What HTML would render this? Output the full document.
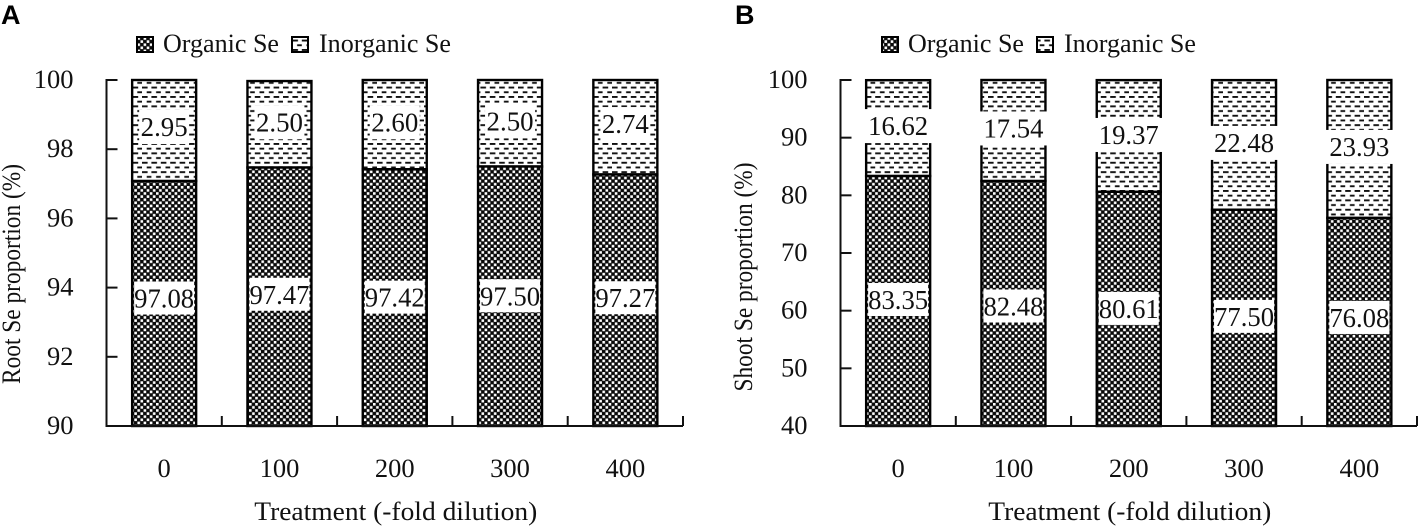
<!DOCTYPE html>
<html lang="en">
<head>
<meta charset="utf-8">
<title>Root and shoot Se proportion</title>
<style>
html,body{margin:0;padding:0;background:#fff;width:1418px;height:526px;overflow:hidden}
svg{display:block}
text{font-family:"Liberation Serif",serif;fill:#111}
.letter{font-family:"Liberation Sans",sans-serif;font-weight:700;fill:#000}
</style>
</head>
<body>
<svg id="figure" xmlns="http://www.w3.org/2000/svg" width="1418" height="526" viewBox="0 0 1418 526">
<defs>
<pattern id="organic" patternUnits="userSpaceOnUse" width="6.2" height="6.2" x="1" y="0">
<rect width="6.2" height="6.2" fill="#0a0a0a"/>
<rect x="0" y="0" width="2.6" height="2.6" fill="#fff"/>
<rect x="3.1" y="3.1" width="2.6" height="2.6" fill="#fff"/>
</pattern>
<pattern id="inorganic" patternUnits="userSpaceOnUse" width="9.4" height="9.4" x="1" y="2">
<rect width="9.4" height="9.4" fill="#fff"/>
<rect x="0" y="0" width="5.6" height="1.9" fill="#111"/>
<rect x="4.7" y="4.7" width="5.6" height="1.9" fill="#111"/>
</pattern>
</defs>
<g id="panel-a"></g>
<g id="panel-b"></g>
</svg>
<script>
const categories = ['0', '100', '200', '300', '400'];
const rootOrganic = [97.08, 97.47, 97.42, 97.50, 97.27];
const rootInorganic = [2.95, 2.50, 2.60, 2.50, 2.74];
const shootOrganic = [83.35, 82.48, 80.61, 77.50, 76.08];
const shootInorganic = [16.62, 17.54, 19.37, 22.48, 23.93];
const rootTicks = [90, 92, 94, 96, 98, 100];
const shootTicks = [40, 50, 60, 70, 80, 90, 100];
const rootOrganicLabels = ['97.08', '97.47', '97.42', '97.50', '97.27'];
const rootInorganicLabels = ['2.95', '2.50', '2.60', '2.50', '2.74'];
const shootOrganicLabels = ['83.35', '82.48', '80.61', '77.50', '76.08'];
const shootInorganicLabels = ['16.62', '17.54', '19.37', '22.48', '23.93'];

const NS = 'http://www.w3.org/2000/svg';
function make(parent, tag, attrs, content) {
  const el = document.createElementNS(NS, tag);
  for (const k in attrs) el.setAttribute(k, attrs[k]);
  if (content !== undefined) el.textContent = content;
  parent.appendChild(el);
  return el;
}

function drawPanel(cfg) {
  const root = document.getElementById(cfg.id);
  const top = 80, bottom = 426, bandW = 115.3, barW = 64;
  const yMin = cfg.ticks[0], yMax = cfg.ticks[cfg.ticks.length - 1];
  const y = v => bottom - (Math.min(v, yMax) - yMin) / (yMax - yMin) * (bottom - top);
  const x = i => cfg.left + bandW * i + bandW / 2;

  const letter = make(root, 'text', {x: cfg.letterX, y: 24, 'font-size': 27, class: 'letter'}, cfg.letter);
  
  

  categories.forEach((c, i) => {
    const orgTop = y(cfg.organic[i]);
    const incTop = y(cfg.organic[i] + cfg.inorganic[i]);
    const inc = make(root, 'rect', {x: x(i) - barW / 2, y: incTop, width: barW, height: orgTop - incTop, fill: 'url(#inorganic)', stroke: '#000', 'stroke-width': 2.4});
    
    
    const org = make(root, 'rect', {x: x(i) - barW / 2, y: orgTop, width: barW, height: bottom - orgTop, fill: 'url(#organic)', stroke: '#000', 'stroke-width': 2.4});
    
    
  });

  // axes
  const yAxis = make(root, 'line', {x1: cfg.left, x2: cfg.left, y1: top - 1, y2: bottom + 1, stroke: '#111', 'stroke-width': 2});
  
  
  const xAxis = make(root, 'line', {x1: cfg.left - 1, x2: cfg.left + bandW * 5, y1: bottom, y2: bottom, stroke: '#111', 'stroke-width': 2});
  
  

  cfg.ticks.forEach(t => {
    const tick = make(root, 'line', {x1: cfg.left, x2: cfg.left + 11, y1: y(t), y2: y(t), stroke: '#111', 'stroke-width': 2});
    
    
    const lab = make(root, 'text', {x: cfg.left - 33, y: y(t) + 8, 'text-anchor': 'end', 'font-size': 26.5}, String(t));
    
    
  });
  for (let i = 1; i <= 5; i++) {
    const tick = make(root, 'line', {x1: cfg.left + bandW * i, x2: cfg.left + bandW * i, y1: bottom, y2: bottom - 10, stroke: '#111', 'stroke-width': 2});
    
    
  }

  categories.forEach((c, i) => {
    const lab = make(root, 'text', {x: x(i), y: 477, 'text-anchor': 'middle', 'font-size': 26.5}, c);
    
    

    const orgMid = y(cfg.organic[i] / 2 + yMin / 2);
    const incMid = y(cfg.organic[i] + cfg.inorganic[i] / 2);
    const boxO = make(root, 'rect', {x: x(i) - cfg.boxW5 / 2, y: orgMid + cfg.nudgeOrganic[i] - 17, width: cfg.boxW5, height: 33, fill: '#fff'});
    
    
    const tO = make(root, 'text', {x: x(i), y: orgMid + cfg.nudgeOrganic[i] + 9, 'text-anchor': 'middle', 'font-size': 27.5, textLength: 60, lengthAdjust: 'spacingAndGlyphs'}, cfg.organicLabels[i]);
    
    
    const incW = cfg.incLabelW;
    const boxI = make(root, 'rect', {x: x(i) - incW / 2, y: incMid + cfg.nudgeInorganic[i] - 17, width: incW, height: 34, fill: '#fff'});
    
    
    const tI = make(root, 'text', {x: x(i), y: incMid + cfg.nudgeInorganic[i] + 9, 'text-anchor': 'middle', 'font-size': 27.5, textLength: cfg.incTextW, lengthAdjust: 'spacingAndGlyphs'}, cfg.inorganicLabels[i]);
    
    
  });

  // titles
  const yt = make(root, 'text', {transform: 'translate(' + cfg.yTitleX + ',' + cfg.yTitleY + ') rotate(-90)', 'text-anchor': 'middle', 'font-size': 26, textLength: cfg.yTitleLen, lengthAdjust: 'spacingAndGlyphs'}, cfg.yTitle);
  
  
  const xt = make(root, 'text', {x: cfg.left + bandW * 2.5 + 1, y: 520, 'text-anchor': 'middle', 'font-size': 26, textLength: 283, lengthAdjust: 'spacingAndGlyphs'}, 'Treatment (-fold dilution)');
  
  

  // legend
  const legend = make(root, 'g', {});
  
  
  const sw1 = make(legend, 'rect', {x: cfg.legendX, y: 37, width: 16, height: 15, fill: 'url(#organic)', stroke: '#000', 'stroke-width': 2});
  
  
  const lt1 = make(legend, 'text', {x: cfg.legendX + 26, y: 52, 'font-size': 26, textLength: 116, lengthAdjust: 'spacingAndGlyphs'}, 'Organic Se');
  
  
  const sw2 = make(legend, 'rect', {x: cfg.legendX + 155, y: 37, width: 16, height: 15, fill: 'url(#inorganic)', stroke: '#000', 'stroke-width': 2});
  
  
  const lt2 = make(legend, 'text', {x: cfg.legendX + 182, y: 52, 'font-size': 26, textLength: 132, lengthAdjust: 'spacingAndGlyphs'}, 'Inorganic Se');
  
  
}

drawPanel({
  id: 'panel-a', letter: 'A', letterX: 1, left: 106.5, ticks: rootTicks,
  organic: rootOrganic, inorganic: rootInorganic,
  organicLabels: rootOrganicLabels, inorganicLabels: rootInorganicLabels,
  yTitle: 'Root Se proportion (%)', yTitleX: 20, yTitleY: 274, yTitleLen: 220, legendX: 137,
  boxW5: 60, incLabelW: 50, incTextW: 47,
  nudgeOrganic: [-5, -2, 0, 0, -2],
  nudgeInorganic: [-3, -2, -2, -2, -3]
});
drawPanel({
  id: 'panel-b', letter: 'B', letterX: 735, left: 840.5, ticks: shootTicks,
  organic: shootOrganic, inorganic: shootInorganic,
  organicLabels: shootOrganicLabels, inorganicLabels: shootInorganicLabels,
  yTitle: 'Shoot Se proportion (%)', yTitleX: 752, yTitleY: 277, yTitleLen: 229, legendX: 882,
  boxW5: 60, incLabelW: 68, incTextW: 60,
  nudgeOrganic: [-1, 3, 0, -1, -4],
  nudgeInorganic: [-2, -2, -1, -2, -2]
});
</script>
</body>
</html>
